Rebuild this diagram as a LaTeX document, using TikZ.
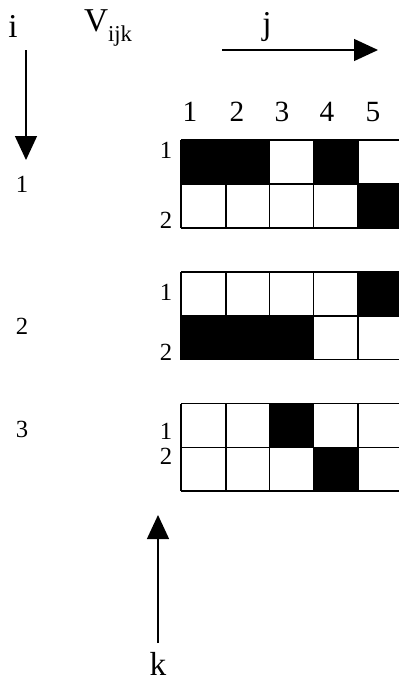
\documentclass[tikz,border=0pt]{standalone}
\usepackage{fontspec}
\setmainfont{Liberation Serif}
\usetikzlibrary{arrows.meta}
\begin{document}
\begin{tikzpicture}[x=0.75pt,y=-0.75pt,
  gline/.style={line width=1.2pt},
  axarrow/.style={line width=1pt,-{Triangle[length=18pt,width=16.5pt]}},
  biglabel/.style={inner sep=0pt,font=\fontsize{25}{28}\selectfont},
  coldigit/.style={inner sep=0pt,font=\fontsize{22}{25}\selectfont},
  rowdigit/.style={inner sep=0pt,font=\fontsize{18.5}{21}\selectfont}]
\clip (0,0) rectangle (399,682);
\fill[white] (0,0) rectangle (399,682);
% labels on top
\node[biglabel] (ilab) at (13,26) {i};
\node[biglabel] (vlab) at (108,28) {V\raisebox{-0.32em}{\fontsize{17}{19}\selectfont ijk}};
\node[biglabel] (jlab) at (267,27) {j};
\node[biglabel] (klab) at (158,664) {k};
% axis arrows
\coordinate (iS) at (26,50); \coordinate (iE) at (26,160);
\coordinate (jS) at (222,50); \coordinate (jE) at (378,50);
\coordinate (kS) at (158,643); \coordinate (kE) at (158,515);
\draw[axarrow] (iS) -- (iE);
\draw[axarrow] (jS) -- (jE);
\draw[axarrow] (kS) -- (kE);
% column numbers
\node[coldigit] (c1) at (190,112) {1};
\node[coldigit] (c2) at (237,112) {2};
\node[coldigit] (c3) at (282,112) {3};
\node[coldigit] (c4) at (327,112) {4};
\node[coldigit] (c5) at (373,112) {5};
% i values
\node[rowdigit] (i1) at (22,184) {1};
\node[rowdigit] (i2) at (22,326) {2};
\node[rowdigit] (i3) at (22,429) {3};
% row labels
\node[rowdigit] (g1r1) at (166,150) {1};
\node[rowdigit] (g1r2) at (166,220) {2};
\node[rowdigit] (g2r1) at (166,292) {1};
\node[rowdigit] (g2r2) at (166,352) {2};
\node[rowdigit] (g3r1) at (166,431) {1};
\node[rowdigit] (g3r2) at (166,456) {2};
% filled cells
\fill (181,140) rectangle (269.5,184);
\fill (313.5,140) rectangle (358,184);
\fill (358,184) rectangle (403,228);
\fill (358,272) rectangle (403,316);
\fill (181,316) rectangle (313.5,359.5);
\fill (269.5,403.5) rectangle (313.5,447.5);
\fill (313.5,447.5) rectangle (358,491);
% grid lines
\foreach \t/\m/\b in {140/184/228, 272/316/359.5, 403.5/447.5/491}{
  \foreach \yy in {\t,\m,\b} \draw[gline] (181,\yy) -- (403,\yy);
  \foreach \xx in {181,226,269.5,313.5,358} \draw[gline] (\xx,\t) -- (\xx,\b);
}
\end{tikzpicture}
\end{document}
